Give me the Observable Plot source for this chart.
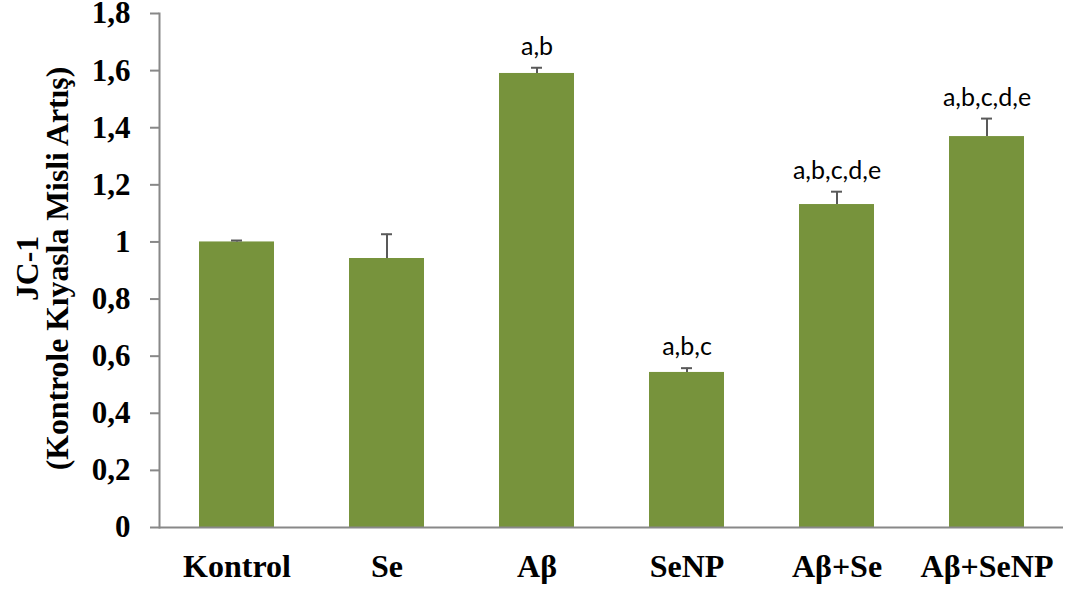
<!DOCTYPE html>
<html>
<head>
<meta charset="utf-8">
<script src="https://cdn.jsdelivr.net/npm/d3@7"></script>
<script src="https://cdn.jsdelivr.net/npm/@observablehq/plot@0.6"></script>
<style>
  html, body { margin: 0; padding: 0; background: #fff; }
  #chart svg { display: block; }
</style>
</head>
<body>
<div id="chart"></div>
<script>
const categories = ["Kontrol", "Se", "Aβ", "SeNP", "Aβ+Se", "Aβ+SeNP"];
const means = [1.0, 0.942, 1.59, 0.543, 1.131, 1.369];
const errors = [0.005, 0.085, 0.02, 0.015, 0.045, 0.063];
const sigLabels = ["", "", "a,b", "a,b,c", "a,b,c,d,e", "a,b,c,d,e"];
const yTicks = [0, 0.2, 0.4, 0.6, 0.8, 1, 1.2, 1.4, 1.6, 1.8];
const yTickLabels = ["0", "0,2", "0,4", "0,6", "0,8", "1", "1,2", "1,4", "1,6", "1,8"];
const yTitle = "JC-1\n(Kontrole Kıyasla Misli Artış)";

const data = categories.map((c, i) => ({cat: c, v: means[i], e: errors[i], top: means[i] + errors[i], sig: sigLabels[i]}));
const serif = "'Liberation Serif', 'Times New Roman', serif";

const chart = Plot.plot({
  width: 1065,
  height: 589,
  marginLeft: 159,
  marginRight: 2,
  marginTop: 13,
  marginBottom: 62,
  x: {domain: categories, paddingInner: 0.5, paddingOuter: 0.25, label: null},
  y: {domain: [0, 1.8], label: null},
  marks: [
    Plot.barY(data, {x: "cat", y: "v", fill: "#77933C"}),
    Plot.ruleX(data, {x: "cat", y1: "v", y2: "top", stroke: "#595959", strokeWidth: 2}),
    Plot.tickY(data, {x: "cat", y: "top", stroke: "#595959", strokeWidth: 2, insetLeft: 32, insetRight: 32}),
    Plot.text(data.filter(d => d.sig), {x: "cat", y: "top", text: "sig", dy: -21, fontSize: 25, fontFamily: "Lato, 'Open Sans', sans-serif", fill: "#000"}),
    Plot.ruleY([0], {stroke: "#888", strokeWidth: 2}),
    Plot.frame({anchor: "left", stroke: "#888", strokeWidth: 2}),
    Plot.axisY({ticks: yTicks, tickFormat: d => yTickLabels[yTicks.findIndex(t => Math.abs(t - d) < 1e-9)], tickSize: 9, tickPadding: 20, stroke: "#888", strokeWidth: 2, fill: "#000", fontSize: 31, fontWeight: "bold", fontFamily: serif, label: null}),
    Plot.axisX({tickSize: 0, tickPadding: 27, fill: "#000", fontSize: 32, fontWeight: "bold", fontFamily: serif, label: null}),
    Plot.text([yTitle], {frameAnchor: "left", textAnchor: "middle", dx: -116, dy: -2, rotate: -90, fontSize: 31.7, fontWeight: "bold", fontFamily: serif, fill: "#000", lineHeight: 0.95})
  ]
});
document.getElementById("chart").appendChild(chart);
</script>
</body>
</html>
